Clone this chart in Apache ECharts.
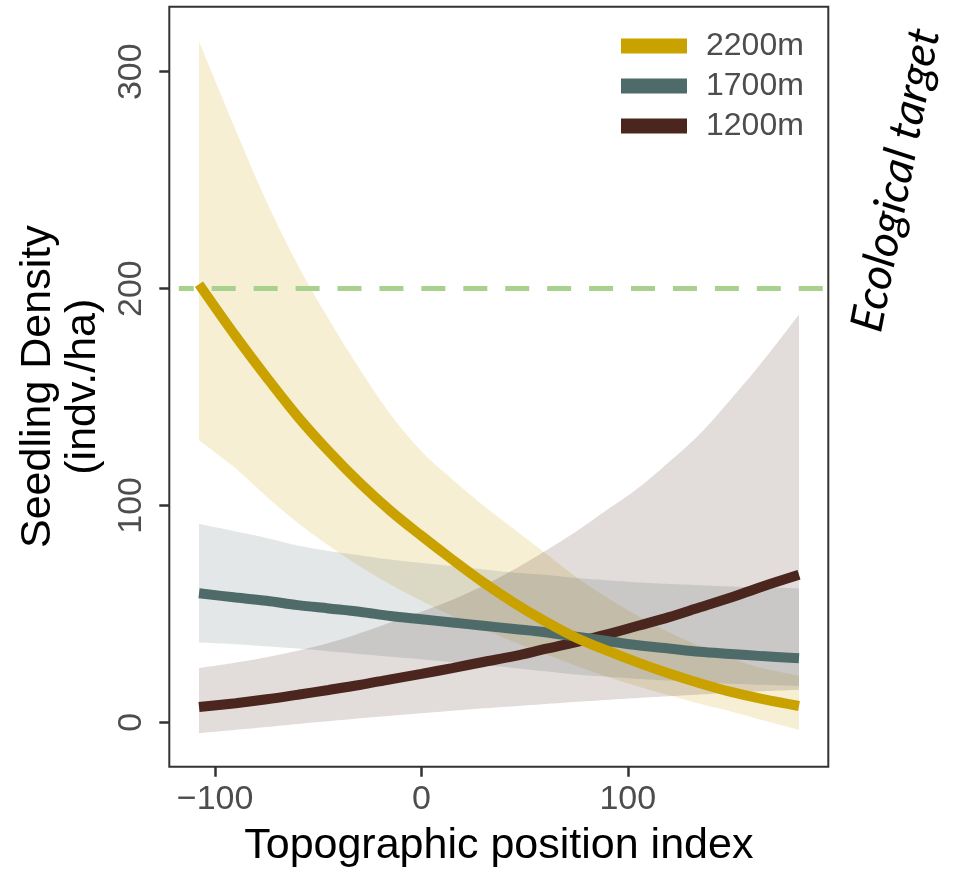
<!DOCTYPE html>
<html>
<head>
<meta charset="utf-8">
<script src="https://cdn.jsdelivr.net/npm/echarts@6/dist/echarts.min.js"></script>
<style>
html,body{margin:0;padding:0;background:#fff;}
#chart{width:955px;height:873px;}
</style>
</head>
<body>
<div id="chart"></div>
<script>
// ---- data ----
const seriesNames = ['2200m', '1700m', '1200m'];
const xs = [-107.8, -90, -75, -60, -45, -30, -15, 0, 15, 30, 45, 60, 75, 90, 105, 120, 135, 150, 165, 183];
const fit2200 = [202, 178, 159, 141, 125, 110.5, 97.5, 86, 75, 64.5, 55, 46.5, 39, 33, 27.5, 22.5, 18, 14, 10.8, 7.5];
const lo2200  = [130, 117, 104, 92, 81.5, 72, 63.5, 56, 49, 43, 37, 31.5, 26, 21, 16.5, 12.5, 8.5, 5, 1, -3.5];
const hi2200  = [314, 273, 240, 211, 186, 163, 142, 125, 112, 100, 89, 78, 67, 57.5, 49, 41.5, 35, 29.5, 25, 21.5];
const fit1700 = [59.5, 57.5, 56, 54, 52.5, 51, 49, 47.5, 46, 44.5, 43, 41.5, 39.5, 37.5, 35.5, 34, 32.5, 31.5, 30.5, 29.5];
const lo1700  = [36.8, 36, 35, 34, 32.8, 31.5, 30.2, 29, 27.7, 26.4, 25, 23.5, 22, 21, 20, 19.2, 18.5, 17.8, 17.3, 16.8];
const hi1700  = [91.5, 88, 85, 81.5, 79, 77, 75, 73.5, 72, 70.5, 69, 68, 66.5, 65.5, 64.5, 63.8, 63.2, 62.6, 62.2, 61.8];
const fit1200 = [7, 8.8, 10.6, 12.7, 14.9, 17.2, 19.8, 22.3, 25, 27.8, 30.5, 33.8, 37, 40.5, 44.5, 48.5, 53, 57.5, 62.5, 68];
const lo1200  = [-5, -3.5, -2.2, -0.8, 0.5, 1.8, 3, 4.2, 5.3, 6.4, 7.4, 8.4, 9.4, 10.3, 11.2, 12, 12.8, 13.6, 14.3, 15];
const hi1200  = [25, 27.5, 30, 33, 36.5, 41, 46, 51, 56.5, 63, 70.5, 79, 88, 98, 108, 120, 133, 149, 166, 188];
const targetValue = 200;
const targetX = [-117.6, 197.2];
const xTicks = [-100, 0, 100];
const yTicks = [0, 100, 200, 300];
const xTitle = 'Topographic position index';
const yTitle = 'Seedling Density\n(indv./ha)';
const sideNote = 'Ecological target';

// ---- styling ----
const lineColors = {'2200m': '#C9A200', '1700m': '#4E6B6A', '1200m': '#4A261E'};
const bandColors = {'2200m': 'rgba(201,162,0,0.17)', '1700m': 'rgba(78,107,106,0.16)', '1200m': 'rgba(74,38,30,0.16)'};
const FONT = 'Liberation Sans, Arial, sans-serif';
const SMOOTH = 0.35;

// rendering helper: smooth edge through pixel points (Catmull-Rom bezier, sampled)
function smoothEdge(pts) {
  const out = [pts[0]];
  for (let i = 0; i < pts.length - 1; i++) {
    const p0 = pts[Math.max(i - 1, 0)], p1 = pts[i], p2 = pts[i + 1], p3 = pts[Math.min(i + 2, pts.length - 1)];
    const c1 = [p1[0] + (p2[0] - p0[0]) / 6, p1[1] + (p2[1] - p0[1]) / 6];
    const c2 = [p2[0] - (p3[0] - p1[0]) / 6, p2[1] - (p3[1] - p1[1]) / 6];
    for (let s = 1; s <= 10; s++) {
      const t = s / 10, u = 1 - t;
      out.push([
        u * u * u * p1[0] + 3 * u * u * t * c1[0] + 3 * u * t * t * c2[0] + t * t * t * p2[0],
        u * u * u * p1[1] + 3 * u * u * t * c1[1] + 3 * u * t * t * c2[1] + t * t * t * p2[1]
      ]);
    }
  }
  return out;
}

function bandSeries(name, lo, hi) {
  return {
    type: 'custom',
    name: 'band ' + name,
    silent: true,
    z: 1,
    clip: true,
    data: xs.map((x, i) => [x, lo[i], hi[i]]),
    encode: {x: 0, y: [1, 2]},
    renderItem: function (params, api) {
      if (params.dataIndex !== 0) return;
      const up = smoothEdge(xs.map((x, i) => api.coord([x, hi[i]])));
      const dn = smoothEdge(xs.map((x, i) => api.coord([x, lo[i]]))).reverse();
      return {type: 'polygon', shape: {points: up.concat(dn)}, style: {fill: bandColors[name], stroke: null}};
    }
  };
}
function lineSeries(name, fit, z) {
  return {
    type: 'line',
    name: name,
    data: xs.map((x, i) => [x, fit[i]]),
    showSymbol: false,
    symbol: 'none',
    smooth: SMOOTH,
    color: lineColors[name],
    itemStyle: {color: lineColors[name]},
    lineStyle: {width: 10, color: lineColors[name], cap: 'butt'},
    z: z,
    silent: true
  };
}

const chart = echarts.init(document.getElementById('chart'), null, {renderer: 'canvas'});
chart.setOption({
  animation: false,
  backgroundColor: '#ffffff',
  grid: {left: 169.3, top: 6.7, right: 126.7, bottom: 106.3, show: true, borderColor: '#333', borderWidth: 2, backgroundColor: 'transparent'},
  legend: {
    data: seriesNames,
    orient: 'vertical',
    left: 621, top: 30,
    padding: 0,
    itemWidth: 66, itemHeight: 15, itemGap: 8,
    icon: 'rect',
    selectedMode: false,
    textStyle: {fontFamily: FONT, fontSize: 32, color: '#4D4D4D', lineHeight: 32, padding: [0, 0, 0, 14]}
  },
  xAxis: {
    type: 'value', min: -122.2, max: 197.2,
    axisLine: {show: false, onZero: false},
    splitLine: {show: false},
    axisTick: {show: true, length: 10, customValues: xTicks, lineStyle: {color: '#333', width: 2.5}},
    axisLabel: {customValues: xTicks, fontFamily: FONT, fontSize: 34, color: '#4D4D4D', margin: 16,
      formatter: v => (v < 0 ? '\u2212' + Math.abs(v) : String(v))},
    name: xTitle, nameLocation: 'middle', nameGap: 58,
    nameTextStyle: {fontFamily: FONT, fontSize: 43, color: '#000'}
  },
  yAxis: {
    type: 'value', min: -20.5, max: 330,
    axisLine: {show: false, onZero: false},
    splitLine: {show: false},
    axisTick: {show: true, length: 10, customValues: yTicks, lineStyle: {color: '#333', width: 2.5}},
    axisLabel: {customValues: yTicks, rotate: 90, fontFamily: FONT, fontSize: 34, color: '#4D4D4D', margin: 21,
      align: 'center', verticalAlign: 'bottom'},
    name: yTitle, nameLocation: 'middle', nameGap: 64, nameRotate: 90,
    nameTextStyle: {fontFamily: FONT, fontSize: 43, color: '#000', lineHeight: 45, align: 'center'}
  },
  graphic: [{
    type: 'text', x: 896, y: 180, rotation: 79 * Math.PI / 180,
    style: {text: sideNote, fontFamily: 'Lato, Open Sans, sans-serif', fontStyle: 'italic', fontSize: 45, fill: '#000',
      align: 'center', verticalAlign: 'middle', textAlign: 'center', textVerticalAlign: 'middle'}
  }],
  series: [
    bandSeries('2200m', lo2200, hi2200),
    bandSeries('1700m', lo1700, hi1700),
    bandSeries('1200m', lo1200, hi1200),
    {
      type: 'line', name: 'target', silent: true, z: 2,
      data: targetX.map(x => [x, targetValue]),
      symbol: 'none', showSymbol: false,
      lineStyle: {color: '#A9D18E', width: 5, type: [24, 17.93], dashOffset: 9, cap: 'butt'}
    },
    lineSeries('1200m', fit1200, 3),
    lineSeries('1700m', fit1700, 4),
    lineSeries('2200m', fit2200, 5)
  ]
});
</script>
</body>
</html>
